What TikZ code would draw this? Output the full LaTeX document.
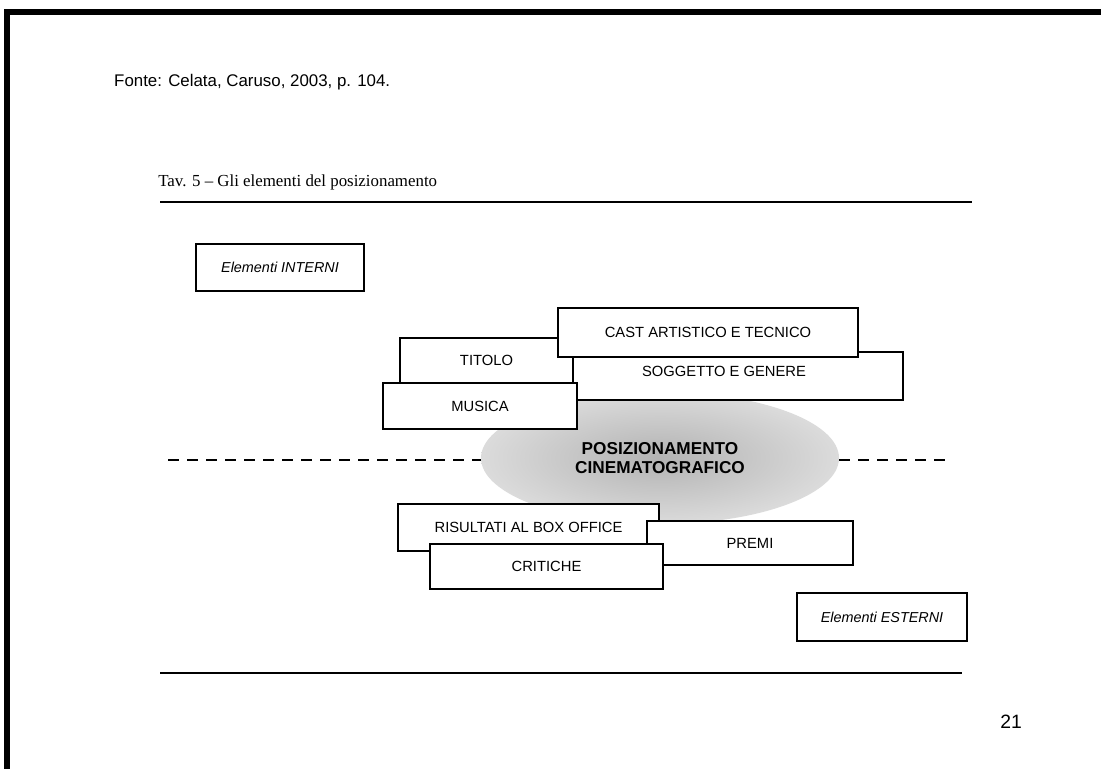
\documentclass[tikz,border=0pt]{standalone}
\usepackage{fontspec}
\setmainfont{Liberation Sans}
\newfontfamily\tavfont{Liberation Serif}
\usetikzlibrary{shapes.geometric}

\begin{document}
\begin{tikzpicture}[x=0.02cm, y=-0.02cm,
        wh/.style 2 args={minimum width=#1*0.02cm, minimum height=#2*0.02cm},
        elembox/.style={draw, fill=white, line width=1.1pt, inner sep=0pt,
            font=\fontsize{8.4}{10}\selectfont},
        tagbox/.style={draw, line width=0.6pt, inner sep=0pt,
            font=\fontsize{8.2}{10}\selectfont\itshape},
        cutline/.style={line width=1.4pt, dash pattern=on 11*0.02cm off 8*0.02cm}]
    \useasboundingbox (0,0) rectangle (1101,769);

    % page frame
    \draw[line width=3pt] (4,12) -- (1101,12);
    \draw[line width=3pt] (7,10) -- (7,769);

    \node[anchor=west, font=\fontsize{9.6}{11}\selectfont] (fonte) at (108,82)
        {Fonte: Celata, Caruso, 2003, p. 104.};
    \node[anchor=base west, inner sep=0pt, font=\tavfont\fontsize{9.6}{11}\selectfont] (tav) at (158,186)
        {Tav. 5 – Gli elementi del posizionamento};
    \draw[line width=0.8pt] (160,202) coordinate (rtop) -- (972,202);
    \draw[line width=0.8pt] (160,673) coordinate (rbot) -- (962,673);

    % centre of the scheme
    \node[ellipse, wh={358}{132}, inner color=black!30, outer color=black!14, shade,
        align=center, font=\bfseries\fontsize{9.8}{11.3}\selectfont] (pos) at (660,458)
        {POSIZIONAMENTO\\CINEMATOGRAFICO};
    \coordinate (dl) at (168,460);
    \coordinate (dr) at (947,460);
    \draw[cutline] (dl) -- (pos.west |- dl);
    \draw[cutline] (pos.east |- dr) -- (dr);

    \node[tagbox, wh={168}{47}] (interni) at (280,267.5) {Elementi INTERNI};
    \node[tagbox, wh={170}{48}] (esterni) at (882,617) {Elementi ESTERNI};

    % elementi interni
    \node[elembox, wh={173}{45}] (titolo) at (486.5,360.5) {TITOLO};
    \node[elembox, wh={330}{48},
        label={[xshift=-0.28cm, yshift=0.1cm, font=\fontsize{8.4}{10}\selectfont]center:SOGGETTO E GENERE}]
        (soggetto) at (738,376) {};
    \node[elembox, wh={300}{49}] (cast) at (708,332.5) {CAST ARTISTICO E TECNICO};
    \node[elembox, wh={194}{46}] (musica) at (480,406) {MUSICA};

    % elementi esterni
    \node[elembox, wh={261}{47}] (risultati) at (528.5,527.5) {RISULTATI AL BOX OFFICE};
    \node[elembox, wh={206}{44}] (premi) at (750,543) {PREMI};
    \node[elembox, wh={233}{45}] (critiche) at (546.5,566.5) {CRITICHE};

    \node[font=\fontsize{11}{13}\selectfont] (pagina) at (1011,722) {21};
\end{tikzpicture}
\end{document}
